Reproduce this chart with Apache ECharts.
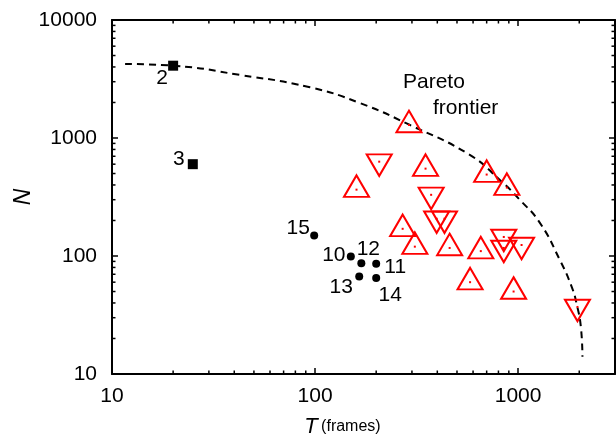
<!DOCTYPE html>
<html>
<head>
<meta charset="utf-8">
<script src="https://cdn.jsdelivr.net/npm/echarts@6/dist/echarts.min.js"></script>
<style>
  html, body { margin: 0; padding: 0; background: #fff; }
  #chart { width: 616px; height: 439px; }
</style>
</head>
<body>
<div id="chart"></div>
<script>
  // points (T in frames, N)
  const squareIds = ['2', '3']
  const squareT = [20, 25]
  const squareN = [4100, 600]

  const dotIds = ['15', '10', '12', '11', '13', '14']
  const dotT = [99, 150, 169, 200, 165, 200]
  const dotN = [149, 99, 87, 86, 67, 65]

  const upT = [290, 350, 160, 700, 880, 270, 310, 460, 655, 580, 950]
  const upN = [1290, 550, 365, 490, 380, 170, 120, 117, 110, 60, 50]

  const downT = [207, 373, 397, 434, 850, 850, 1040, 1960]
  const downN = [630, 330, 207, 207, 145, 117, 124, 37]

  const paretoT = [11.6, 20, 42.8, 94.4, 166, 293, 578, 813, 1020, 1280, 1603, 1836, 1946, 2037, 2074]
  const paretoN = [4240, 4100, 3420, 2690, 1980, 1290, 719, 441, 299, 191, 93, 54.8, 38.6, 25.1, 14.0]

  const xMinorTicks = [20, 30, 40, 50, 60, 70, 80, 90, 200, 300, 400, 500, 600, 700, 800, 900, 2000]
  const yMinorTicks = [20, 30, 40, 50, 60, 70, 80, 90, 200, 300, 400, 500, 600, 700, 800, 900,
    2000, 3000, 4000, 5000, 6000, 7000, 8000, 9000]

  const X_MIN = 10
  const X_MAX = 3000
  const Y_MIN = 10
  const Y_MAX = 10000

  // where each number sits relative to its point
  const labelOffset = {
    '2': [-11, 13], '3': [-14, -5],
    '15': [-16, -7], '10': [-17, -1], '12': [7, -14],
    '11': [19, 3], '13': [-18, 11], '14': [14, 17]
  }

  const FONT = 'Liberation Sans, Arial, Helvetica, sans-serif'
  const RED = '#ff0000'

  const zip = (a, b) => a.map((v, i) => [v, b[i]])
  const labelled = (ids, xs, ys) => ids.map((id, i) => ({
    name: id,
    value: [xs[i], ys[i]],
    label: {offset: labelOffset[id]}
  }))
  const powerOfTen = v => {
    const l = Math.log10(v)
    return Math.abs(l - Math.round(l)) < 1e-6 ? String(v) : ''
  }

  const numLabel = {
    show: true,
    position: 'inside',
    formatter: '{b}',
    color: '#000',
    fontSize: 21,
    fontFamily: FONT,
    align: 'center',
    verticalAlign: 'middle'
  }

  // minor ticks, drawn as thin rects sitting on the frame and pointing inwards
  const tickMarks = (data, size, offset) => ({
    type: 'scatter',
    silent: true,
    clip: false,
    z: 10,
    data: data,
    symbol: 'rect',
    symbolSize: size,
    symbolOffset: offset,
    itemStyle: {color: '#000', opacity: 1}
  })
  const MINOR = 3.5
  const minorTicks = [
    tickMarks(xMinorTicks.map(v => [v, Y_MIN]), [1.5, MINOR], [0, -MINOR / 2]),
    tickMarks(xMinorTicks.map(v => [v, Y_MAX]), [1.5, MINOR], [0, MINOR / 2]),
    tickMarks(yMinorTicks.map(v => [X_MIN, v]), [MINOR, 1.5], [MINOR / 2, 0]),
    tickMarks(yMinorTicks.map(v => [X_MAX, v]), [MINOR, 1.5], [-MINOR / 2, 0])
  ]

  const axisCommon = {
    type: 'log',
    logBase: 10,
    axisLine: {show: true, onZero: false, lineStyle: {color: '#000', width: 2}},
    axisTick: {show: true, inside: true, length: 6, lineStyle: {color: '#000', width: 1.5}},
    splitLine: {show: false},
    minorTick: {show: false}
  }

  const chart = echarts.init(document.getElementById('chart'), null, {renderer: 'canvas'})

  chart.setOption({
    animation: false,
    backgroundColor: '#fff',
    grid: {left: 112, right: 1, top: 20, bottom: 65, outerBoundsMode: 'none'},
    xAxis: [
      Object.assign({}, axisCommon, {
        position: 'bottom',
        min: X_MIN,
        max: X_MAX,
        axisLabel: {
          formatter: powerOfTen, color: '#000', fontSize: 21, fontFamily: FONT, margin: 12,
          showMaxLabel: false
        },
        name: '{t|T} {f|(frames)}',
        nameLocation: 'middle',
        nameGap: 42,
        nameMoveOverlap: false,
        nameTextStyle: {
          padding: [0, 42, 0, 0],
          rich: {
            t: {fontSize: 22, fontStyle: 'italic', fontFamily: FONT, color: '#000'},
            f: {fontSize: 16, fontFamily: FONT, color: '#000'}
          }
        }
      }),
      Object.assign({}, axisCommon, {
        position: 'top',
        min: X_MIN,
        max: X_MAX,
        axisLabel: {show: false}
      })
    ],
    yAxis: [
      Object.assign({}, axisCommon, {
        position: 'left',
        min: Y_MIN,
        max: Y_MAX,
        axisLabel: {formatter: powerOfTen, color: '#000', fontSize: 21, fontFamily: FONT, margin: 15},
        name: 'N',
        nameLocation: 'middle',
        nameRotate: 90,
        nameGap: 77,
        nameMoveOverlap: false,
        nameTextStyle: {fontSize: 23, fontStyle: 'italic', fontFamily: FONT, color: '#000'}
      }),
      Object.assign({}, axisCommon, {
        position: 'right',
        min: Y_MIN,
        max: Y_MAX,
        axisLabel: {show: false}
      })
    ],
    graphic: [
      {type: 'text', x: 403, y: 82, style: {text: 'Pareto', fill: '#000', font: '21px ' + FONT, verticalAlign: 'middle'}},
      {type: 'text', x: 433, y: 108, style: {text: 'frontier', fill: '#000', font: '21px ' + FONT, verticalAlign: 'middle'}}
    ],
    series: [
      {
        type: 'line',
        data: zip(paretoT, paretoN),
        smooth: true,
        showSymbol: false,
        symbol: 'none',
        silent: true,
        z: 1,
        lineStyle: {color: '#000', width: 2, type: [7, 5]}
      },
      {
        type: 'scatter',
        data: zip(upT, upN),
        symbol: 'triangle',
        symbolSize: [25, 21.5],
        symbolOffset: [0, -3.5],
        itemStyle: {color: 'rgba(0,0,0,0)', borderColor: RED, borderWidth: 2, opacity: 1},
        z: 3
      },
      {
        type: 'scatter',
        data: zip(downT, downN),
        symbol: 'path://M-1,-1L1,-1L0,1Z',
        symbolSize: [25, 21.5],
        symbolOffset: [0, 3.5],
        itemStyle: {color: 'rgba(0,0,0,0)', borderColor: RED, borderWidth: 2, opacity: 1},
        z: 3
      },
      {
        type: 'scatter',
        data: zip(upT, upN).concat(zip(downT, downN)),
        symbol: 'rect',
        symbolSize: 2,
        itemStyle: {color: RED, opacity: 1},
        z: 4
      },
      {
        type: 'scatter',
        data: labelled(squareIds, squareT, squareN),
        symbol: 'rect',
        symbolSize: 10,
        itemStyle: {color: '#000', opacity: 1},
        label: numLabel,
        z: 4
      },
      {
        type: 'scatter',
        data: labelled(dotIds, dotT, dotN),
        symbol: 'circle',
        symbolSize: 8,
        itemStyle: {color: '#000', opacity: 1},
        label: numLabel,
        z: 4
      }
    ].concat(minorTicks)
  })
</script>
</body>
</html>
